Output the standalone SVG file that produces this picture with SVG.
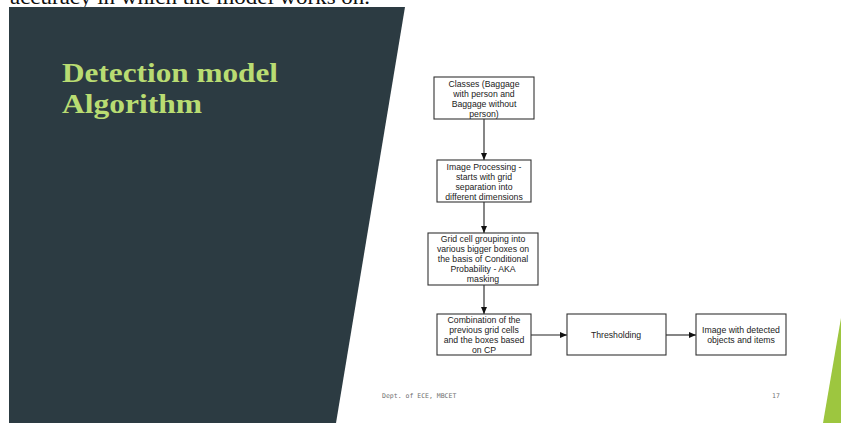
<svg xmlns="http://www.w3.org/2000/svg" width="841" height="423" viewBox="0 0 841 423">
<defs>
<marker id="ah" markerWidth="8" markerHeight="8" refX="7" refY="4" orient="auto" markerUnits="userSpaceOnUse">
<path d="M0,1 L7,4 L0,7 Z" fill="#111"/>
</marker>
<style>
.box{fill:#fff;stroke:#333;stroke-width:1.1}
.t{font-family:"Liberation Sans",Arial,sans-serif;font-size:8.7px;fill:#222;text-anchor:middle}
.c{stroke:#222;stroke-width:1.1;fill:none;marker-end:url(#ah)}
.ft{font-family:"DejaVu Sans Mono","Liberation Mono",monospace;font-size:6.5px;fill:#707070}
</style>
</defs>
<rect width="841" height="423" fill="#fff"/>
<text x="10" y="4" font-family="Liberation Serif,serif" font-size="22" fill="#111" textLength="360" lengthAdjust="spacingAndGlyphs">accuracy in which the model works on.</text>
<polygon points="9,7 405,7 336,423 9,423" fill="#2c3b42"/>
<polygon points="841,318 841,423 823,423" fill="#9dc63f"/>
<text x="62" y="82" font-family="Liberation Serif,serif" font-weight="bold" font-size="27" fill="#b9dc72" textLength="216" lengthAdjust="spacingAndGlyphs">Detection model</text>
<text x="62" y="113" font-family="Liberation Serif,serif" font-weight="bold" font-size="27" fill="#b9dc72" textLength="140" lengthAdjust="spacingAndGlyphs">Algorithm</text>

<g id="connectors">
<line class="c" x1="484" y1="119" x2="484" y2="160"/>
<line class="c" x1="484" y1="202" x2="484" y2="233"/>
<line class="c" x1="484" y1="285" x2="484" y2="314"/>
<line class="c" x1="531" y1="335" x2="567" y2="335"/>
<line class="c" x1="666" y1="335" x2="696" y2="335"/>
</g>

<g id="n1">
<rect class="box" x="434" y="77" width="100" height="42"/>
<text class="t" x="484" y="86.5">Classes (Baggage</text>
<text class="t" x="484" y="96.5">with person and</text>
<text class="t" x="484" y="106.5">Baggage without</text>
<text class="t" x="484" y="116.5">person)</text>
</g>
<g id="n2">
<rect class="box" x="437" y="160" width="94" height="42"/>
<text class="t" x="484" y="169.5">Image Processing -</text>
<text class="t" x="484" y="179.5">starts with grid</text>
<text class="t" x="484" y="189.5">separation into</text>
<text class="t" x="484" y="199.5">different dimensions</text>
</g>
<g id="n3">
<rect class="box" x="428" y="233" width="110" height="52"/>
<text class="t" x="483" y="242">Grid cell grouping into</text>
<text class="t" x="483" y="252">various bigger boxes on</text>
<text class="t" x="483" y="262">the basis of Conditional</text>
<text class="t" x="483" y="272">Probability - AKA</text>
<text class="t" x="483" y="282">masking</text>
</g>
<g id="n4">
<rect class="box" x="437" y="314" width="94" height="41"/>
<text class="t" x="484" y="323">Combination of the</text>
<text class="t" x="484" y="333">previous grid cells</text>
<text class="t" x="484" y="343">and the boxes based</text>
<text class="t" x="484" y="353">on CP</text>
</g>
<g id="n5">
<rect class="box" x="567" y="314" width="99" height="41"/>
<text class="t" x="616" y="338">Thresholding</text>
</g>
<g id="n6">
<rect class="box" x="696" y="314" width="90" height="41"/>
<text class="t" x="741" y="333">Image with detected</text>
<text class="t" x="741" y="343">objects and items</text>
</g>

<text class="ft" x="382" y="398">Dept. of ECE, MBCET</text>
<text class="ft" x="772" y="398">17</text>
</svg>
